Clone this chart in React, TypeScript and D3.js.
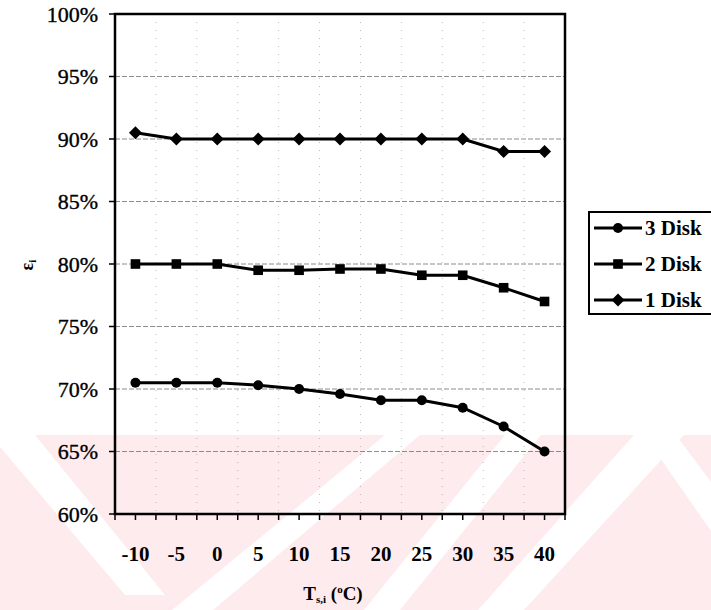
import React from "react";
import * as d3 from "d3";

// Inlet temperature categories (°C)
const temps: number[] = [-10, -5, 0, 5, 10, 15, 20, 25, 30, 35, 40];

// Efficiency (%) per number of disks
const disk3: number[] = [70.5, 70.5, 70.5, 70.3, 70.0, 69.6, 69.1, 69.1, 68.5, 67.0, 65.0];
const disk2: number[] = [80.0, 80.0, 80.0, 79.5, 79.5, 79.6, 79.6, 79.1, 79.1, 78.1, 77.0];
const disk1: number[] = [90.5, 90.0, 90.0, 90.0, 90.0, 90.0, 90.0, 90.0, 90.0, 89.0, 89.0];

const seriesNames: string[] = ["3 Disk", "2 Disk", "1 Disk"];
const yTickValues: number[] = [60, 65, 70, 75, 80, 85, 90, 95, 100];

const W = 711;
const H = 610;
const X0 = 115;
const X1 = 565;
const Y0 = 14;
const Y1 = 514;
const FONT = "'Liberation Serif', 'Times New Roman', serif";

type Shape = "circle" | "square" | "diamond";
const shapes: Shape[] = ["circle", "square", "diamond"];

function Marker({ shape, cx, cy }: { shape: Shape; cx: number; cy: number }) {
  if (shape === "circle") return <circle cx={cx} cy={cy} r={5} fill="#000" />;
  if (shape === "square")
    return <rect x={cx - 4.8} y={cy - 4.8} width={9.6} height={9.6} fill="#000" />;
  const s = 6.5;
  return (
    <path
      d={`M${cx},${cy - s}L${cx + s},${cy}L${cx},${cy + s}L${cx - s},${cy}Z`}
      fill="#000"
    />
  );
}

// faint pink watermark with white diagonal bands
function Watermark() {
  const top = 435;
  const bands: [number, number][][] = [
    [[-10, top], [35, top], [165, 595], [125, 595]],
    [[385, top], [420, top], [213, H], [172, H]],
    [[505, top], [541, top], [400, H], [364, H]],
    [[634, top], [684, top], [524, H], [478, H]],
    [[644, top], [676, top], [711, 482], [711, 531]],
  ];
  return (
    <g>
      <rect x={0} y={top} width={W} height={H - top} fill="#fdebee" />
      {bands.map((b, i) => (
        <polygon key={i} points={b.map((p) => p.join(",")).join(" ")} fill="#fff" />
      ))}
    </g>
  );
}

export default function App() {
  const x = d3
    .scalePoint<string>()
    .domain(temps.map(String))
    .range([X0, X1])
    .padding(0.5);
  const step = x.step();
  const y = d3.scaleLinear().domain([60, 100]).range([Y1, Y0]);

  const series = [disk3, disk2, disk1];
  const line = d3
    .line<number>()
    .x((_, i) => x(String(temps[i])) as number)
    .y((v) => y(v));

  const boundaries = d3.range(temps.length + 1).map((i) => X0 + i * step);
  const halfTicks = d3.range(temps.length * 2 + 1).map((i) => X0 + (i * step) / 2);

  return (
    <svg width={W} height={H} style={{ display: "block", position: "absolute", left: 0, top: 0 }}>
      <rect width={W} height={H} fill="#fff" />
      <Watermark />

      {/* horizontal grid */}
      {yTickValues
        .filter((v) => v > 60 && v < 100)
        .map((v) => (
          <line
            key={"h" + v}
            x1={X0}
            x2={X1}
            y1={y(v)}
            y2={y(v)}
            stroke="#808080"
            strokeWidth={0.9}
            strokeDasharray="5,2"
          />
        ))}
      {/* vertical grid */}
      {boundaries.slice(1, -1).map((bx, i) => (
        <line
          key={"v" + i}
          x1={bx}
          x2={bx}
          y1={Y0}
          y2={Y1}
          stroke="#aaa"
          strokeWidth={0.8}
          strokeDasharray="1,7"
        />
      ))}

      {/* series */}
      {series.map((vals, si) => (
        <g key={si}>
          <path d={line(vals) || ""} fill="none" stroke="#000" strokeWidth={3} />
          {vals.map((v, i) => (
            <Marker key={i} shape={shapes[si]} cx={x(String(temps[i])) as number} cy={y(v)} />
          ))}
        </g>
      ))}

      {/* plot frame */}
      <rect x={X0} y={Y0} width={X1 - X0} height={Y1 - Y0} fill="none" stroke="#000" strokeWidth={2.5} />

      {/* y axis ticks and labels */}
      {yTickValues.map((v) => (
        <g key={"y" + v}>
          <line x1={X0 - 6} x2={X0} y1={y(v)} y2={y(v)} stroke="#000" strokeWidth={1.5} />
          <text
            x={X0 - 17}
            y={y(v)}
            dy="0.35em"
            textAnchor="end"
            fontFamily={FONT}
            fontSize={22}
            fill="#000"
            stroke="#000"
            strokeWidth={0.35}
          >
            {v}%
          </text>
        </g>
      ))}

      {/* x axis ticks and labels */}
      {halfTicks.map((tx, i) => (
        <line key={"xt" + i} x1={tx} x2={tx} y1={Y1} y2={Y1 + 6} stroke="#000" strokeWidth={1.5} />
      ))}
      {temps.map((t) => (
        <text
          key={"xl" + t}
          x={x(String(t)) as number}
          y={561}
          textAnchor="middle"
          fontFamily={FONT}
          fontSize={21}
          fontWeight="bold"
          fill="#000"
        >
          {t}
        </text>
      ))}

      {/* axis titles */}
      <text x={333} y={600} textAnchor="middle" fontFamily={FONT} fontSize={19} fontWeight="bold" fill="#000">
        T<tspan fontSize={11} dy={3}>s,i</tspan>
        <tspan dy={-3}> (</tspan>
        <tspan fontSize={11} dy={-7}>o</tspan>
        <tspan dy={7}>C)</tspan>
      </text>
      <text
        transform="translate(33,265) rotate(-90)"
        textAnchor="middle"
        fontFamily={FONT}
        fontSize={18}
        fontWeight="bold"
        fill="#000"
      >
        ε<tspan fontSize={11} dy={3}>i</tspan>
      </text>

      {/* legend */}
      <rect x={589} y={212} width={140} height={102} fill="#fff" stroke="#000" strokeWidth={2} />
      {seriesNames.map((name, i) => {
        const ly = 228 + i * 36;
        return (
          <g key={name}>
            <line x1={594} x2={642} y1={ly} y2={ly} stroke="#000" strokeWidth={3} />
            <Marker shape={shapes[i]} cx={618} cy={ly} />
            <text x={645} y={ly} dy="0.35em" fontFamily={FONT} fontSize={21} fontWeight="bold" fill="#000">
              {name}
            </text>
          </g>
        );
      })}
    </svg>
  );
}
